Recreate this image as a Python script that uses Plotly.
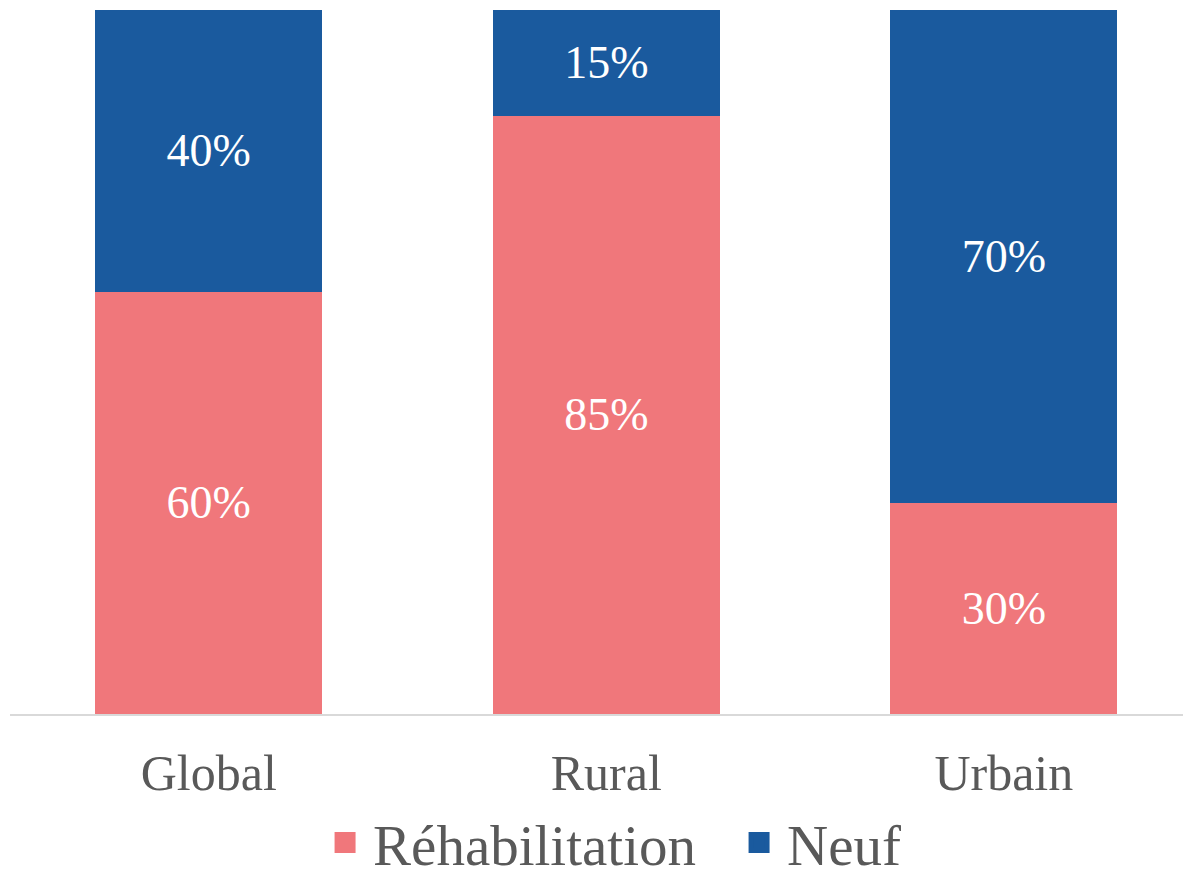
import plotly.graph_objects as go

categories = ["Global", "Rural", "Urbain"]
rehab = [0.60, 0.85, 0.30]
neuf = [0.40, 0.15, 0.70]
rehab_labels = ["60%", "85%", "30%"]
neuf_labels = ["40%", "15%", "70%"]
series_names = ["Réhabilitation", "Neuf"]

PINK = "#F0777B"
BLUE = "#1A5A9E"
FONT = "Liberation Serif"

fig = go.Figure()
for vals, labels, color, name in [(rehab, rehab_labels, PINK, series_names[0]),
                                  (neuf, neuf_labels, BLUE, series_names[1])]:
    fig.add_trace(go.Bar(
        x=categories, y=vals, name=name, marker_color=color,
        marker_line_width=0, text=labels, textposition="inside",
        insidetextanchor="middle",
        textfont=dict(color="white", size=46, family=FONT),
        width=0.571, showlegend=False, legendgroup=name,
    ))
# legend proxies (bigger square symbols than the bar legend glyph)
for color, name in [(PINK, series_names[0]), (BLUE, series_names[1])]:
    fig.add_trace(go.Scatter(
        x=[None], y=[None], mode="markers", name=name, legendgroup=name,
        marker=dict(symbol="square", size=16, color=color,
                    line=dict(color=color, width=5)),
    ))

fig.update_layout(
    barmode="stack",
    width=1191, height=876,
    margin=dict(l=2, r=0, t=2, b=170, autoexpand=False),
    plot_bgcolor="white", paper_bgcolor="white",
    font=dict(family=FONT, color="#595959", size=46),
    legend=dict(
        orientation="h", xref="container", yref="container",
        x=0.2595, xanchor="left", y=0.047, yanchor="middle",
        font=dict(size=57, color="#595959", family=FONT),
        itemwidth=46, traceorder="normal", bgcolor="rgba(0,0,0,0)",
        entrywidth=353, entrywidthmode="pixels",
    ),
    xaxis=dict(
        range=[-0.5, 2.491], showline=True, linecolor="#D9D9D9", linewidth=2,
        ticks="", tickfont=dict(size=50, color="#595959", family=FONT),
        ticklabelstandoff=14,
        showgrid=False, zeroline=False,
    ),
    yaxis=dict(range=[0, 1], visible=False, showgrid=False, zeroline=False),
)

fig.write_html("out.html")
